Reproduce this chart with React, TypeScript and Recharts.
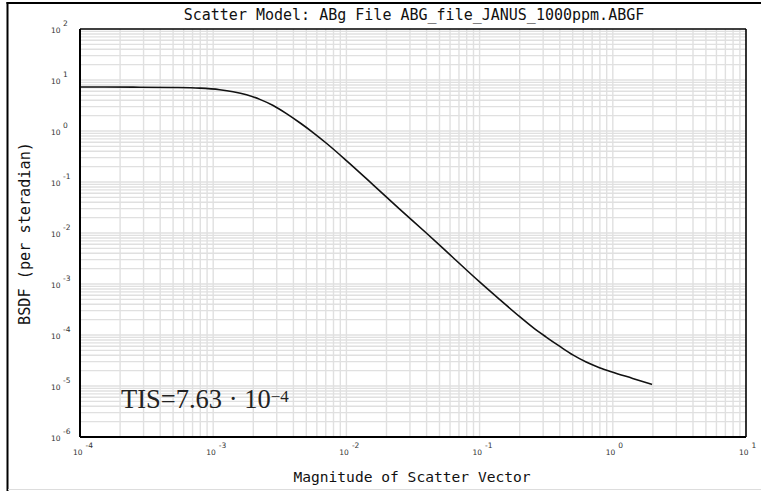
import { LineChart, Line, XAxis, YAxis, CartesianGrid, ReferenceLine } from "recharts";

// magnitude of scatter vector (x) and BSDF (y)
const scatterVector = [
  1e-4, 2.51e-4, 5.01e-4, 7.94e-4, 1.12e-3, 1.41e-3, 1.78e-3, 2.24e-3, 2.82e-3, 3.55e-3, 4.47e-3,
  5.62e-3, 7.08e-3, 1e-2, 1.58e-2, 2.51e-2, 3.98e-2, 6.31e-2, 0.1, 0.141, 0.2, 0.251, 0.316, 0.398,
  0.501, 0.631, 0.794, 1.0, 1.41, 1.97,
];
const bsdf = [
  7.29, 7.24, 7.13, 6.92, 6.46, 5.9, 5.13, 4.17, 3.16, 2.19, 1.45, 0.933, 0.575, 0.263, 0.0891,
  0.0295, 0.01, 3.31e-3, 1.1e-3, 5.01e-4, 2.29e-4, 1.41e-4, 9.12e-5, 6.03e-5, 4.07e-5, 2.95e-5,
  2.29e-5, 1.86e-5, 1.41e-5, 1.07e-5,
];

const xDecades = [-4, -3, -2, -1, 0, 1];
const yDecades = [-6, -5, -4, -3, -2, -1, 0, 1, 2];
const minorSteps = [1, 2, 3, 4, 5, 6, 7, 8, 9];

const title = "Scatter Model: ABg File ABG_file_JANUS_1000ppm.ABGF";
const xTitle = "Magnitude of Scatter Vector";
const yTitle = "BSDF (per steradian)";

const data = scatterVector.map((x, i) => ({ x, y: bsdf[i] }));
const xTicks = xDecades.map((d) => Math.pow(10, d));
const yTicks = yDecades.map((d) => Math.pow(10, d));
const gridValues = (decades: number[]) =>
  decades.slice(0, -1).flatMap((d) => minorSteps.map((m) => m * Math.pow(10, d)));

const tickFont = { fontFamily: "DejaVu Sans", fontSize: 7.5, fill: "#333" };
const mono = "DejaVu Sans Mono";

const XTick = ({ x, payload }: any) => {
  const e = Math.round(Math.log10(payload.value));
  return (
    <g>
      <text x={x + 2.5} y={452} textAnchor="end" dominantBaseline="central" {...tickFont}>
        10
      </text>
      <text x={x + 5.5} y={445.5} textAnchor="start" dominantBaseline="central" {...tickFont}>
        {e}
      </text>
    </g>
  );
};

const YTick = ({ y, payload }: any) => {
  const e = Math.round(Math.log10(payload.value));
  return (
    <g>
      <text x={60.5} y={y + 1} textAnchor="end" dominantBaseline="central" {...tickFont}>
        10
      </text>
      <text x={63} y={y - 6} textAnchor="start" dominantBaseline="central" {...tickFont}>
        {e}
      </text>
    </g>
  );
};

export default function App() {
  return (
    <div style={{ position: "absolute", left: 0, top: 0, width: 761, height: 491, background: "#fff" }}>
      <LineChart
        width={761}
        height={491}
        data={data}
        margin={{ top: 29, right: 15, bottom: 24, left: 20 }}
      >
        <CartesianGrid
          stroke="#e0e0e0"
          strokeWidth={1.4}
          verticalValues={gridValues(xDecades)}
          horizontalValues={gridValues(yDecades)}
        />
        <XAxis
          dataKey="x"
          type="number"
          scale="log"
          domain={[1e-4, 10]}
          ticks={xTicks}
          interval={0}
          allowDataOverflow
          tickLine={false}
          axisLine={{ stroke: "#000", strokeWidth: 2 }}
          tick={<XTick />}
        />
        <YAxis
          type="number"
          scale="log"
          domain={[1e-6, 100]}
          ticks={yTicks}
          interval={0}
          allowDataOverflow
          width={60}
          tickLine={false}
          axisLine={{ stroke: "#000", strokeWidth: 2 }}
          tick={<YTick />}
        />
        <ReferenceLine x={10} stroke="#000" strokeWidth={1.6} />
        <ReferenceLine y={100} stroke="#000" strokeWidth={1.6} />
        <Line
          dataKey="y"
          type="monotone"
          stroke="#111"
          strokeWidth={1.6}
          dot={false}
          isAnimationActive={false}
        />
      </LineChart>
      <svg
        width={761}
        height={491}
        style={{ position: "absolute", left: 0, top: 0, pointerEvents: "none" }}
      >
        <line x1={7.5} y1={2} x2={7.5} y2={491} stroke="#000" strokeWidth={2} />
        <line x1={6.5} y1={3} x2={761} y2={3} stroke="#000" strokeWidth={2} />
        <line x1={8} y1={489.5} x2={761} y2={489.5} stroke="#ddd" strokeWidth={1} />
        <text x={414} y={20} textAnchor="middle" fontFamily={mono} fontSize={15} fill="#111">
          {title}
        </text>
        <text x={412} y={482} textAnchor="middle" fontFamily={mono} fontSize={14.6} fill="#111">
          {xTitle}
        </text>
        <text
          x={30}
          y={233.5}
          textAnchor="middle"
          fontFamily={mono}
          fontSize={15.2}
          fill="#111"
          transform="rotate(-90 30 233.5)"
        >
          {yTitle}
        </text>
        <text x={121} y={408} fontFamily="Liberation Serif" fontSize={26.5} fill="#222">
          TIS=7.63 · 10
          <tspan dy={-6} fontSize={17}>
            −4
          </tspan>
        </text>
      </svg>
    </div>
  );
}
